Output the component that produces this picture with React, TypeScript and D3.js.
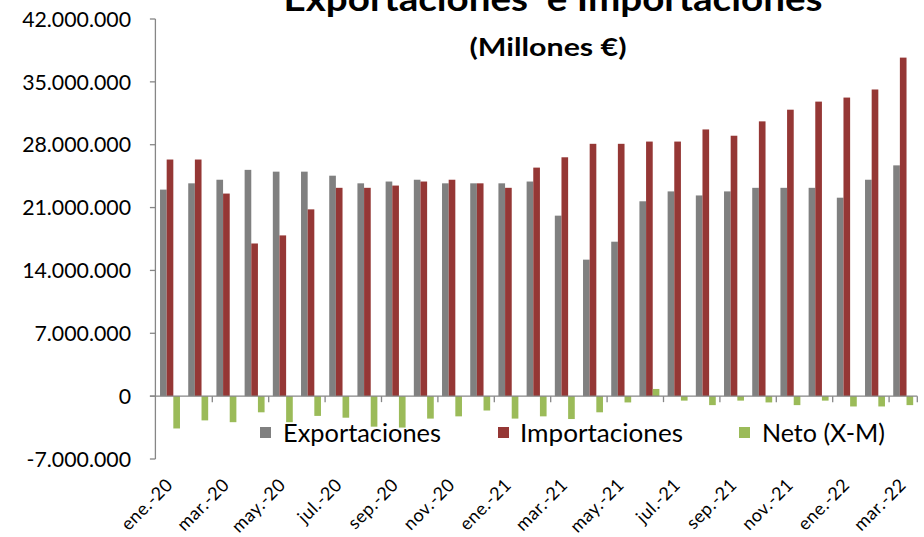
import React from "react";
import * as d3 from "d3";

const months = [
  "ene.-20","feb.-20","mar.-20","abr.-20","may.-20","jun.-20","jul.-20","ago.-20","sep.-20","oct.-20","nov.-20","dic.-20",
  "ene.-21","feb.-21","mar.-21","abr.-21","may.-21","jun.-21","jul.-21","ago.-21","sep.-21","oct.-21","nov.-21","dic.-21",
  "ene.-22","feb.-22","mar.-22",
];
const exportaciones = [
  23.0, 23.7, 24.1, 25.2, 25.0, 25.0, 24.55, 23.7, 23.9, 24.1, 23.7, 23.7,
  23.7, 23.9, 20.1, 15.2, 17.2, 21.7, 22.8, 22.35, 22.8, 23.2, 23.2, 23.2,
  22.1, 24.1, 25.7,
].map((v) => v * 1e6);
const importaciones = [
  26.35, 26.35, 22.56, 17.0, 17.9, 20.8, 23.2, 23.2, 23.45, 23.9, 24.1, 23.7,
  23.2, 25.45, 26.6, 28.1, 28.1, 28.35, 28.35, 29.7, 29.0, 30.6, 31.9, 32.8,
  33.25, 34.15, 37.7,
].map((v) => v * 1e6);
const neto = [
  -3.6, -2.7, -2.9, -1.8, -2.9, -2.2, -2.4, -3.4, -3.5, -2.5, -2.25, -1.6,
  -2.5, -2.25, -2.55, -1.8, -0.7, 0.8, -0.5, -1.0, -0.5, -0.7, -1.0, -0.5,
  -1.15, -1.15, -1.0,
].map((v) => v * 1e6);
const yTicks = [-7e6, 0, 7e6, 14e6, 21e6, 28e6, 35e6, 42e6];
const seriesNames = ["Exportaciones", "Importaciones", "Neto (X-M)"];
const colors = ["#808080", "#953735", "#9BBB59"];

const FONT = "Lato, 'Open Sans', sans-serif";

export default function App() {
  const W = 924, H = 537;
  const left = 155.9, right = 917.3, top = 19, bottom = 459;
  const x = d3.scaleBand<string>().domain(months).range([left, right]).paddingInner(0).paddingOuter(0);
  const y = d3.scaleLinear().domain([-7e6, 42e6]).range([bottom, top]);
  const inner = d3.scaleBand<number>().domain([0, 1, 2]).range([0, x.bandwidth()]).paddingInner(0).paddingOuter(0.62);
  const fmt = (v: number) => d3.format(",")(v).replace(/,/g, ".").replace(/\u2212/g, "-");
  const series = [exportaciones, importaciones, neto];
  const y0 = y(0);
  const axisColor = "#868686";
  const legendItems = [
    { sx: 260, tx: 283, w: 158 },
    { sx: 498, tx: 520, w: 163 },
    { sx: 739, tx: 762, w: 123 },
  ];

  return (
    <svg width={W} height={H} style={{ position: "absolute", left: 0, top: 0, background: "#fff" }} fontFamily={FONT}>
      <rect x={0} y={0} width={W} height={H} fill="#fff" />
      {/* title */}
      <text x={553} y={11} textAnchor="middle" fontWeight="bold" fontSize={34} fill="#000" style={{ whiteSpace: "pre" }} textLength={539} lengthAdjust="spacingAndGlyphs">
        {"Exportaciones  e Importaciones"}
      </text>
      <text x={548} y={56} textAnchor="middle" fontWeight="bold" fontSize={25} fill="#000" textLength={157} lengthAdjust="spacingAndGlyphs">
        (Millones €)
      </text>

      {/* bars */}
      {series.map((vals, si) =>
        vals.map((v, i) => {
          const bx = (x(months[i]) as number) + (inner(si) as number);
          const yv = y(v);
          return (
            <rect key={`${si}-${i}`} x={bx} y={Math.min(yv, y0)} width={inner.bandwidth()} height={Math.abs(yv - y0)} fill={colors[si]} />
          );
        })
      )}

      {/* y axis */}
      <line x1={left - 0.5} x2={left - 0.5} y1={top} y2={bottom} stroke={axisColor} strokeWidth={1.3} />
      {yTicks.map((t) => (
        <g key={t}>
          <line x1={left - 6} x2={left - 0.5} y1={y(t)} y2={y(t)} stroke={axisColor} strokeWidth={1.3} />
          <text x={131} y={y(t)} dy="0.36em" textAnchor="end" fontSize={21.3} fill="#000">
            {fmt(t)}
          </text>
        </g>
      ))}

      {/* x axis at zero */}
      <line x1={left - 6} x2={right} y1={y0} y2={y0} stroke={axisColor} strokeWidth={1.3} />
      {months.map((m, i) =>
        i % 2 === 0 && i > 0 ? (
          <line key={`t${i}`} x1={x(m) as number} x2={x(m) as number} y1={y0} y2={y0 + 6} stroke={axisColor} strokeWidth={1.3} />
        ) : null
      )}
      <line x1={right} x2={right} y1={y0} y2={y0 + 6} stroke={axisColor} strokeWidth={1.3} />

      {/* x labels */}
      {months.map((m, i) =>
        i % 2 === 0 ? (
          <text
            key={`l${i}`}
            transform={`translate(${(x(m) as number) + x.bandwidth() / 2 + 4},${486}) rotate(-45)`}
            textAnchor="end"
            fontSize={18}
            letterSpacing={0.5}
            fill="#000"
          >
            {m}
          </text>
        ) : null
      )}

      {/* legend */}
      {legendItems.map((it, k) => (
        <g key={`lg${k}`}>
          <rect x={it.sx} y={427} width={11} height={11} fill={colors[k]} />
          <text x={it.tx} y={442} fontSize={24.5} fill="#000" textLength={it.w} lengthAdjust="spacingAndGlyphs">
            {seriesNames[k]}
          </text>
        </g>
      ))}
    </svg>
  );
}
